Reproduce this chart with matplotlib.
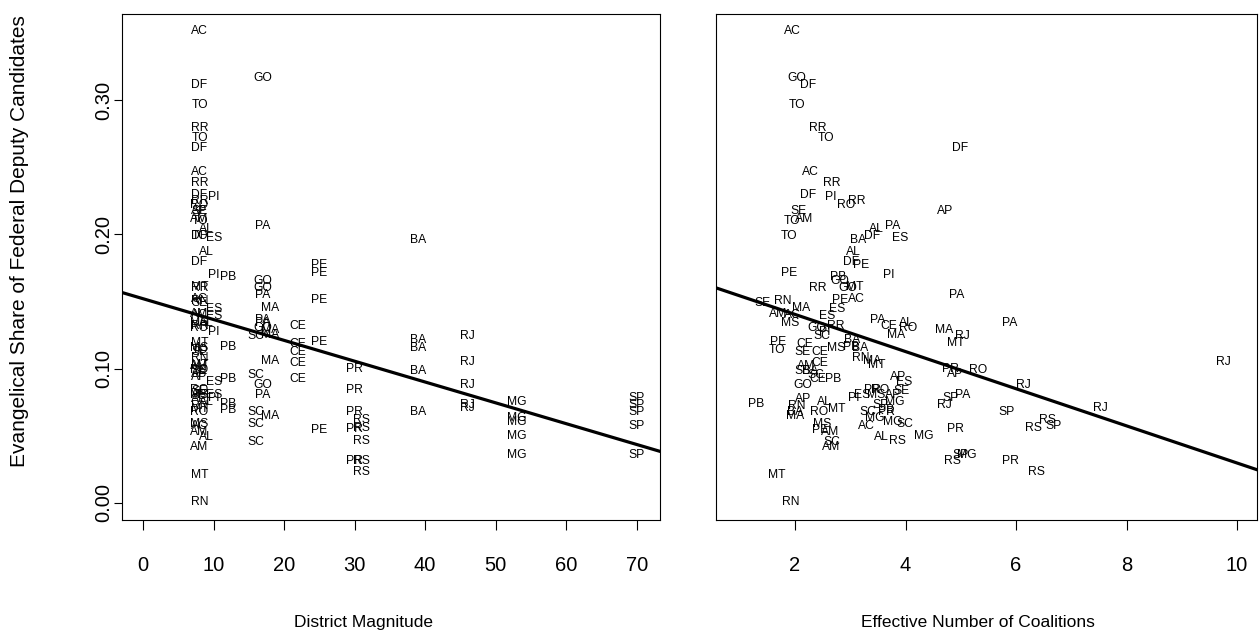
import matplotlib
matplotlib.use('Agg')
from matplotlib import pyplot as plt

plt.rcParams['font.family'] = ['Liberation Sans', 'DejaVu Sans']

# district magnitude per state
magnitude = {'AC': 8, 'DF': 8, 'TO': 8, 'RR': 8, 'AP': 8, 'AM': 8, 'RO': 8, 'SE': 8,
             'MT': 8, 'MS': 8, 'RN': 8, 'AL': 9, 'ES': 10, 'PI': 10, 'PB': 12,
             'SC': 16, 'GO': 17, 'PA': 17, 'MA': 18, 'CE': 22, 'PE': 25, 'PR': 30,
             'RS': 31, 'BA': 39, 'RJ': 46, 'MG': 53, 'SP': 70}

# (evangelical share, effective number of coalitions) per state and election
obs = {
    'AC': [(0.351, 1.96), (0.246, 2.27), (0.152, 3.12), (0.140, 1.95), (0.057, 3.30)],
    'DF': [(0.311, 2.24), (0.264, 4.99), (0.229, 2.24), (0.199, 3.40), (0.179, 3.02)],
    'TO': [(0.296, 2.04), (0.272, 2.56), (0.210, 1.94), (0.199, 1.90), (0.114, 1.67)],
    'RR': [(0.279, 2.42), (0.238, 2.67), (0.225, 3.12), (0.160, 2.42), (0.132, 2.74)],
    'RO': [(0.222, 2.92), (0.130, 4.05), (0.099, 5.31), (0.084, 3.54), (0.068, 2.43)],
    'SE': [(0.217, 2.07), (0.149, 1.42), (0.112, 2.13), (0.098, 2.13), (0.083, 3.92)],
    'AM': [(0.211, 2.16), (0.141, 1.69), (0.102, 2.20), (0.053, 2.63), (0.042, 2.65)],
    'AP': [(0.217, 4.71), (0.096, 4.90), (0.094, 3.86), (0.080, 3.77), (0.077, 2.14)],
    'MT': [(0.161, 3.09), (0.119, 4.91), (0.103, 3.48), (0.070, 2.76), (0.021, 1.67)],
    'MS': [(0.134, 1.91), (0.115, 2.74), (0.080, 3.47), (0.059, 2.49)],
    'RN': [(0.150, 1.78), (0.108, 3.19), (0.072, 2.04), (0.001, 1.93)],
    'AL': [(0.204, 3.48), (0.187, 3.05), (0.134, 4.01), (0.075, 2.54), (0.049, 3.56)],
    'ES': [(0.197, 3.90), (0.144, 2.76), (0.139, 2.58), (0.090, 3.97), (0.080, 3.21)],
    'PI': [(0.228, 2.65), (0.170, 3.70), (0.127, 2.54), (0.078, 3.07)],
    'PB': [(0.168, 2.78), (0.116, 3.01), (0.092, 2.69), (0.074, 1.29), (0.069, 3.65)],
    'SC': [(0.124, 2.49), (0.095, 2.38), (0.068, 3.32), (0.059, 3.99), (0.045, 2.67)],
    'GO': [(0.316, 2.04), (0.165, 2.81), (0.160, 2.96), (0.130, 2.40), (0.088, 2.14)],
    'PA': [(0.206, 3.77), (0.155, 4.93), (0.136, 3.50), (0.134, 5.89), (0.080, 5.04)],
    'MA': [(0.145, 2.11), (0.129, 4.70), (0.125, 3.83), (0.106, 3.39), (0.065, 2.00)],
    'CE': [(0.132, 3.70), (0.118, 2.18), (0.112, 2.45), (0.104, 2.45), (0.092, 2.42)],
    'PE': [(0.177, 3.19), (0.171, 1.89), (0.151, 2.81), (0.120, 1.69), (0.054, 2.45)],
    'PR': [(0.100, 4.81), (0.084, 3.40), (0.068, 3.65), (0.055, 4.90), (0.031, 5.89)],
    'RS': [(0.062, 6.56), (0.056, 6.31), (0.046, 3.86), (0.031, 4.84), (0.023, 6.36)],
    'BA': [(0.196, 3.14), (0.121, 3.03), (0.115, 3.18), (0.098, 2.27), (0.068, 2.00)],
    'RJ': [(0.124, 5.02), (0.105, 9.76), (0.088, 6.14), (0.073, 4.71), (0.071, 7.52)],
    'MG': [(0.075, 3.81), (0.063, 3.45), (0.060, 3.76), (0.050, 4.33), (0.036, 5.11)],
    'SP': [(0.078, 4.82), (0.073, 3.54), (0.068, 5.82), (0.057, 6.67), (0.036, 4.99)],
}

# fitted lines (intercept, slope)
fit_mag = (0.152, -0.00155)
fit_enc = (0.168, -0.01383)

fig = plt.figure(figsize=(12.59, 6.41), dpi=100)
ax1 = fig.add_axes([0.0969, 0.1888, 0.4273, 0.7894])
ax2 = fig.add_axes([0.5687, 0.1888, 0.4297, 0.7894])

for state, rows in obs.items():
    for share, enc in rows:
        ax1.text(magnitude[state], share, state, ha='center', va='center', fontsize=8.7)
        ax2.text(enc, share, state, ha='center', va='center', fontsize=8.7)

ax1.axline((0, fit_mag[0]), slope=fit_mag[1], color='black', lw=2.3)
ax2.axline((0, fit_enc[0]), slope=fit_enc[1], color='black', lw=2.3)

ax1.set_xlim(-3.0, 73.3)
ax2.set_xlim(0.57, 10.36)
for ax in (ax1, ax2):
    ax.set_ylim(-0.0127, 0.364)
    for s in ax.spines.values():
        s.set_linewidth(0.8)
    ax.tick_params(axis='x', direction='out', length=7, width=0.8, pad=19, labelsize=14.5)
    ax.tick_params(axis='y', direction='out', length=6, width=0.8, pad=0, labelsize=14.5)

ax1.set_xticks([0, 10, 20, 30, 40, 50, 60, 70])
ax2.set_xticks([2, 4, 6, 8, 10])
ax1.set_yticks([0.0, 0.1, 0.2, 0.3])
ax1.set_yticklabels(['0.00', '0.10', '0.20', '0.30'], rotation=90, va='center')
ax2.set_yticks([])

ax1.set_xlabel('District Magnitude', fontsize=12.5)
ax2.set_xlabel('Effective Number of Coalitions', fontsize=12.5)
ax1.xaxis.set_label_coords(0.448, -0.188)
ax2.xaxis.set_label_coords(0.485, -0.188)
ax1.set_ylabel('Evangelical Share of Federal Deputy Candidates', fontsize=15)
ax1.yaxis.set_label_coords(-0.172, 0.551)

fig.savefig('out.png', dpi=100)
